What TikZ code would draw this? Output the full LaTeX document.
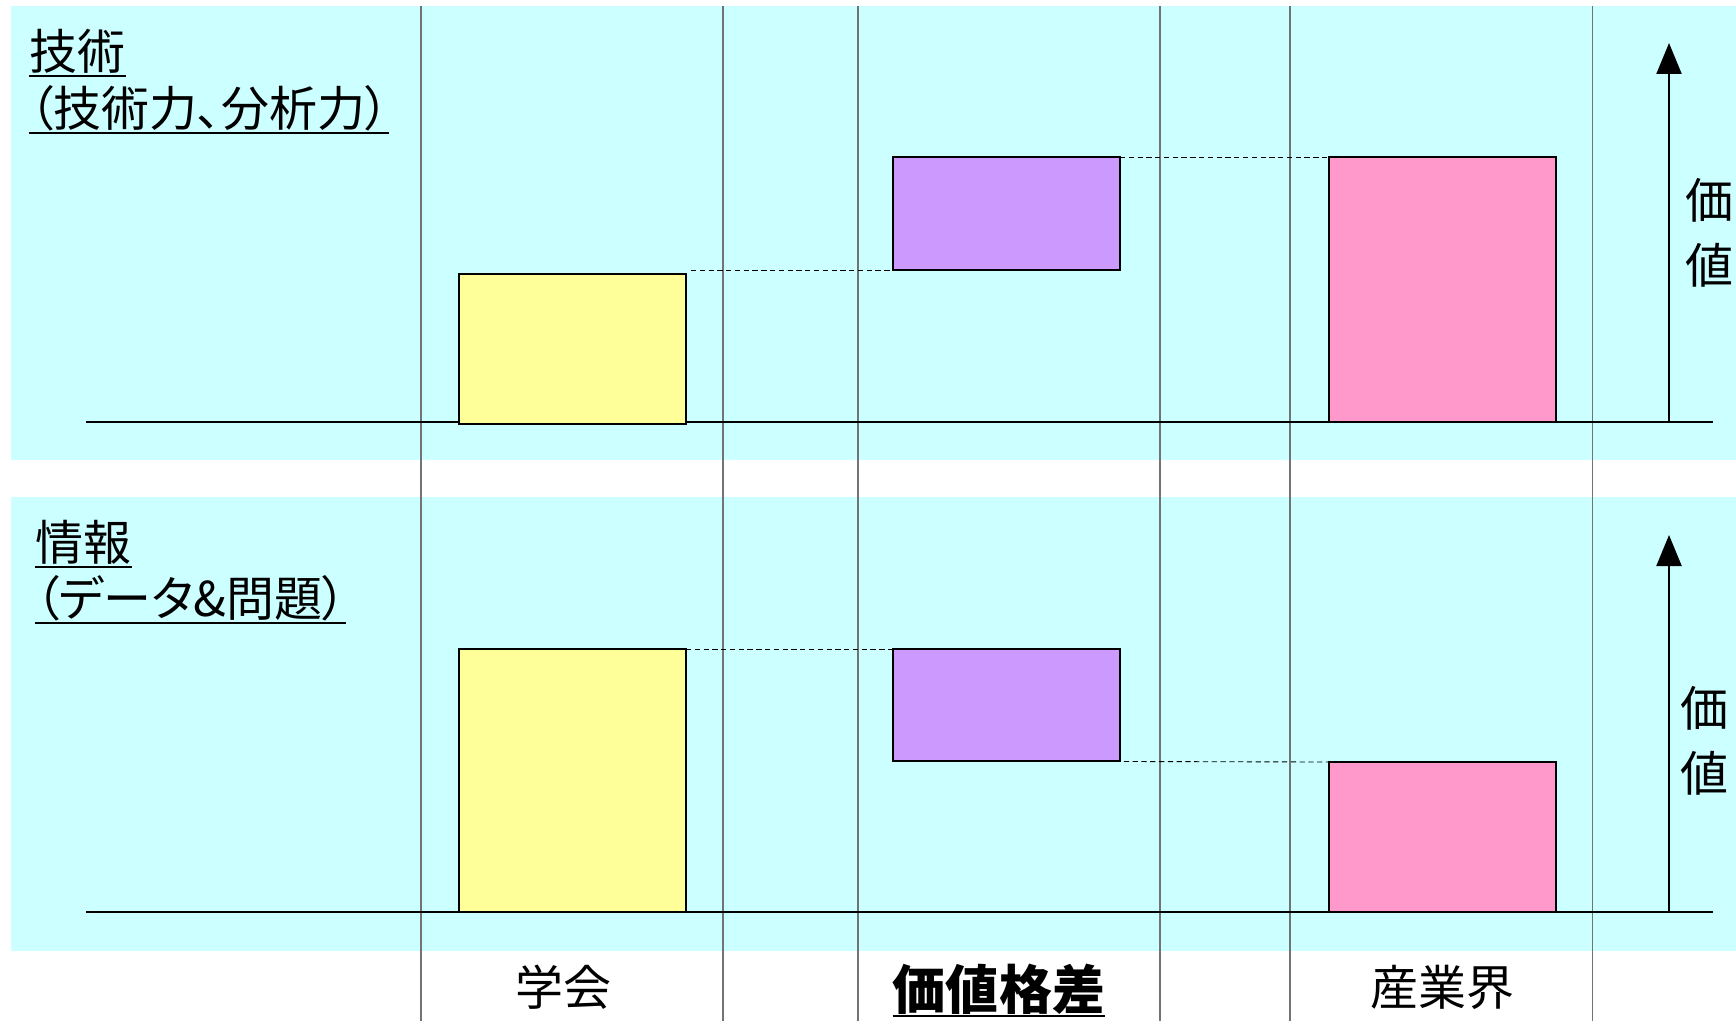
\documentclass[tikz,border=0pt]{standalone}
\usepackage{fontspec}
\setmainfont{Noto Sans CJK JP}[RawFeature=+palt]
\usetikzlibrary{arrows.meta}

\definecolor{panelcyan}{HTML}{CCFFFF}
\definecolor{yellowbar}{HTML}{FFFF99}
\definecolor{purplebar}{HTML}{CC99FF}
\definecolor{pinkbar}{HTML}{FF99CC}

\begin{document}
\begin{tikzpicture}[x=0.02cm,y=-0.02cm,
    panel/.style={fill=panelcyan},
    colline/.style={draw=black!55,line width=0.6pt},
    axis/.style={line width=1pt},
    bar/.style={draw,line width=1pt,minimum width=4.54cm,inner sep=0,outer sep=0,anchor=north west},
    link/.style={line width=0.5pt,dash pattern=on 3pt off 2pt},
    valarrow/.style={line width=1.3pt,-{Triangle[length=0.62cm,width=0.5cm]}},
    lab/.style={font=\fontsize{27.3}{32}\selectfont,inner sep=0,text depth=3.4pt,anchor=south west},
    col/.style={font=\fontsize{27.3}{32}\selectfont,inner sep=0},
    val/.style={font=\fontsize{27.3}{37}\selectfont,inner sep=0,align=center}]
  \useasboundingbox (0,0) rectangle (1736,1021);

  % background panels
  \fill[panel] (11,6) rectangle (1736,460);
  \fill[panel] (11,497) rectangle (1736,951);

  % columns
  \foreach \x in {421,723,858,1160,1290,1592}
    \draw[colline] (\x,6) -- (\x,1021);

  % axes
  \coordinate (tl) at (86,422);
  \coordinate (tr) at (1713,422);
  \coordinate (bl) at (86,912);
  \coordinate (br) at (1713,912);
  \draw[axis] (tl) -- (tr);
  \draw[axis] (bl) -- (br);

  % bars, upper panel
  \node[bar,fill=yellowbar,minimum height=3cm] (yt) at (459,274) {};
  \node[bar,fill=purplebar,minimum height=2.26cm] (pt) at (893,157) {};
  \node[bar,fill=pinkbar,minimum height=5.3cm] (kt) at (1329,157) {};

  % bars, lower panel
  \node[bar,fill=yellowbar,minimum height=5.26cm] (yb) at (459,649) {};
  \node[bar,fill=purplebar,minimum height=2.24cm] (pb) at (893,649) {};
  \node[bar,fill=pinkbar,minimum height=3cm] (kb) at (1329,762) {};

  \draw[link] (yt.east |- pt.south west) ++(5,0) -- (pt.south west);
  \draw[link] (pt.north east) -- (kt.north west);
  \draw[link] (yb.north east) -- (pb.north west);
  \draw[link] ([xshift=0.4cm]pb.south west) -- (kb.north west);

  % value arrows
  \coordinate (ttip) at (1669,43);
  \coordinate (btip) at (1669,535);
  \draw[valarrow] (1669,422) -- (ttip);
  \draw[valarrow] (1669,912) -- (btip);
  \node[val] (tval) at (1709,233) {価\\値};
  \node[val] (bval) at (1704,741) {価\\値};

  % row labels
  \node[lab] (tech) at (29,76) {技術};
  \node[lab] (techsub) at (29,133) {（技術力、分析力）};
  \node[lab] (info) at (35,567) {情報};
  \node[lab] (infosub) at (35,623) {（データ\&問題）};
  \draw[axis] (tech.south west) -- (tech.south east);
  \draw[axis] (techsub.south west) -- (techsub.south east);
  \draw[axis] (info.south west) -- (info.south east);
  \draw[axis] (infosub.south west) -- (infosub.south east);

  % column labels
  \node[col] (gakkai) at (563,987) {学会};
  \node[lab,font=\fontsize{30.2}{34}\selectfont\bfseries,anchor=south] (gap) at (999,1016) {価値格差};
  \draw[axis] (gap.south west) -- (gap.south east);
  \node[col] (sangyo) at (1442,987) {産業界};
\end{tikzpicture}
\end{document}
